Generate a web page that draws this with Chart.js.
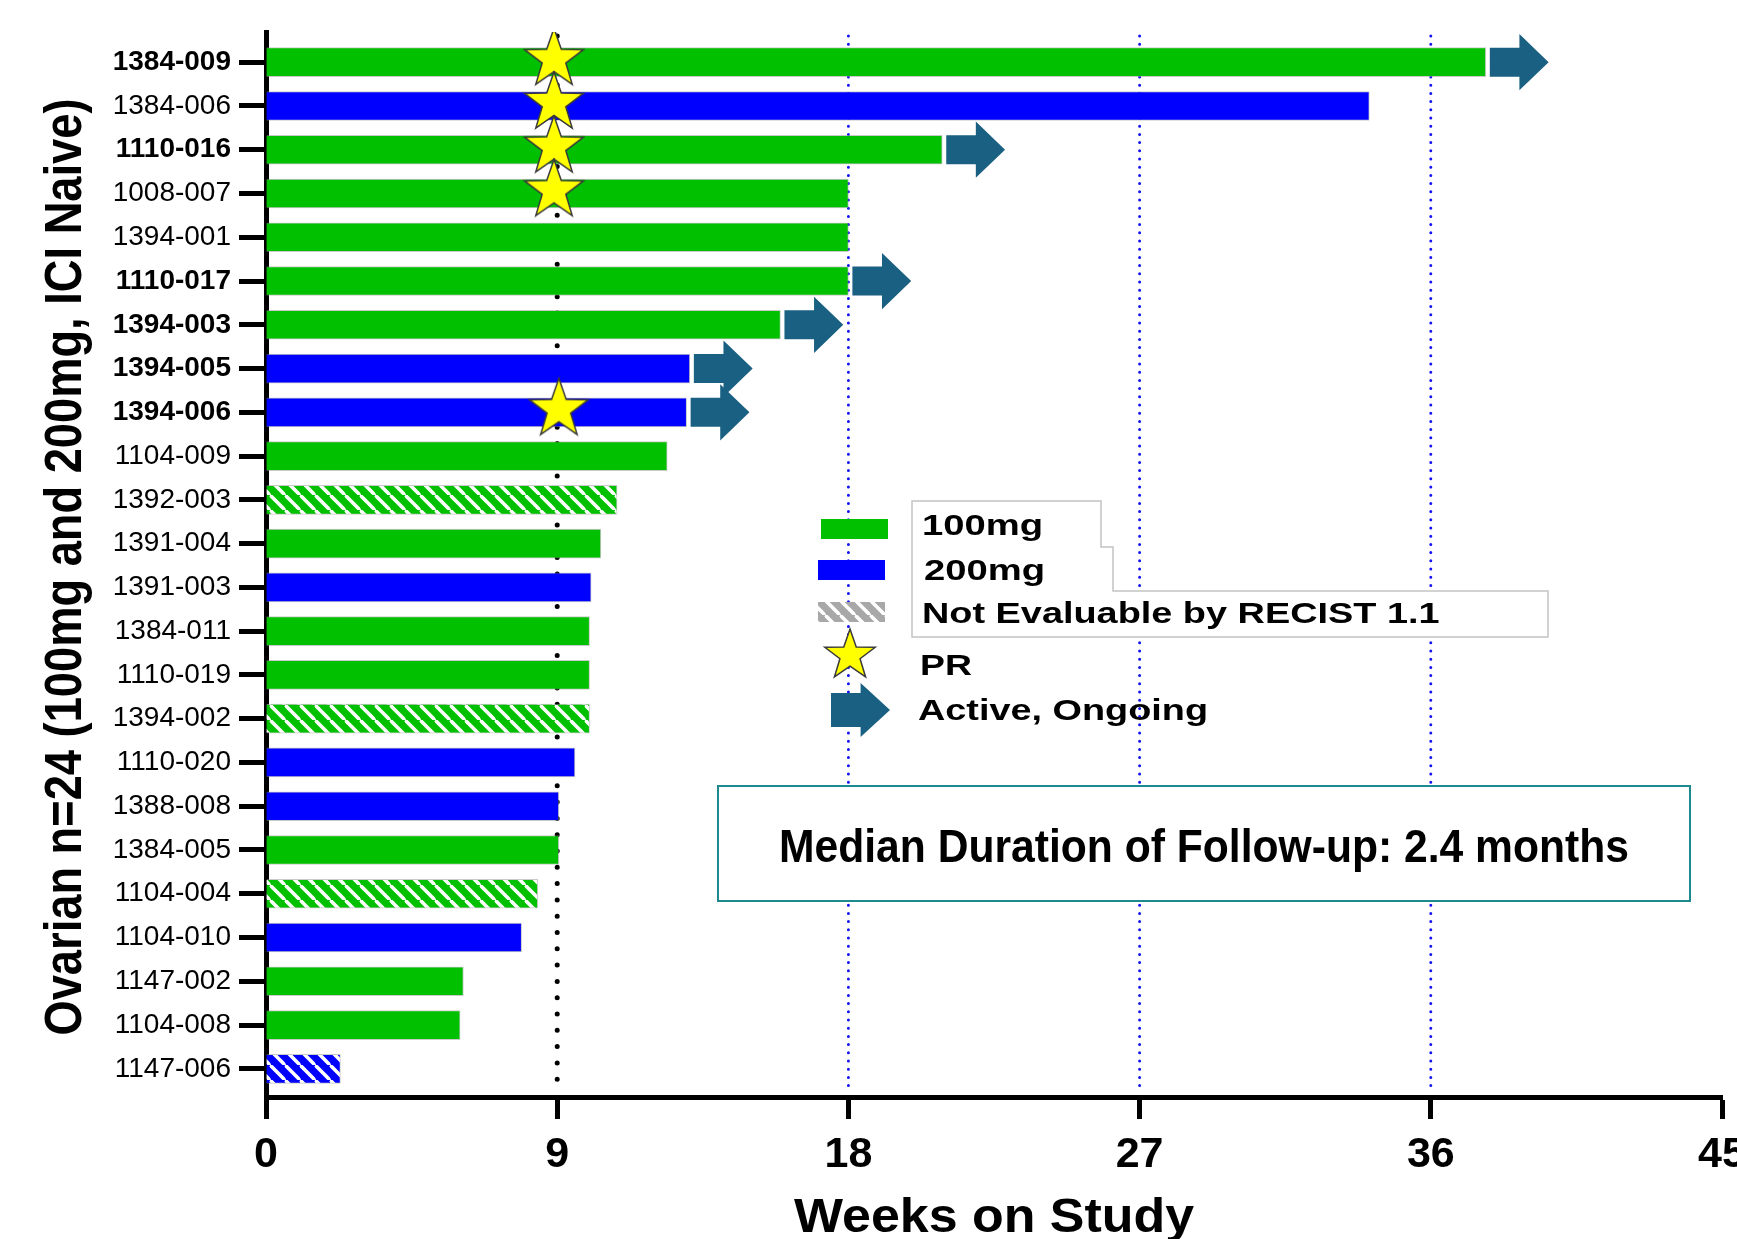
<!DOCTYPE html>
<html>
<head>
<meta charset="utf-8">
<script src="https://cdn.jsdelivr.net/npm/chart.js@4.4.1/dist/chart.umd.min.js"></script>
<style>
  html, body { margin: 0; padding: 0; background: #fff; overflow: hidden; width: 1737px; height: 1239px; }
  canvas { display: block; }
</style>
</head>
<body>
<canvas id="swimmer" width="1760" height="1239"></canvas>
<script>
// Patients, top to bottom
const patients = [
  '1384-009', '1384-006', '1110-016', '1008-007', '1394-001', '1110-017',
  '1394-003', '1394-005', '1394-006', '1104-009', '1392-003', '1391-004',
  '1391-003', '1384-011', '1110-019', '1394-002', '1110-020', '1388-008',
  '1384-005', '1104-004', '1104-010', '1147-002', '1104-008', '1147-006'
];
// Weeks on study for each patient
const weeksOnStudy = [
  37.7, 34.1, 20.9, 18.0, 18.0, 18.0,
  15.9, 13.1, 13.0, 12.4, 10.85, 10.35,
  10.05, 10.0, 10.0, 10.0, 9.55, 9.05,
  9.05, 8.4, 7.9, 6.1, 6.0, 2.3
];
// Dose level (mg) for each patient
const doseMg = [
  100, 200, 100, 100, 100, 100,
  100, 200, 200, 100, 100, 100,
  200, 100, 100, 100, 200, 200,
  100, 100, 200, 100, 100, 200
];
// Not evaluable by RECIST 1.1
const notEvaluablePatients = ['1392-003', '1394-002', '1104-004', '1147-006'];
// Still on treatment
const ongoingPatients = ['1384-009', '1110-016', '1110-017', '1394-003', '1394-005', '1394-006'];
// Partial responses and the week they were recorded
const prPatients = ['1384-009', '1384-006', '1110-016', '1008-007', '1394-006'];
const prWeek = [8.9, 8.9, 8.9, 8.9, 9.05];
// Week axis ticks
const weekTicks = [0, 9, 18, 27, 36, 45];

const FONT = "'Liberation Sans', Arial, Helvetica, sans-serif";
const GREEN = '#00c000';
const BLUE = '#0000ff';
const ARROW = '#1a6082';

function hatch(base) {
  const s = 15.5;
  const c = document.createElement('canvas');
  c.width = s; c.height = s;
  const g = c.getContext('2d');
  g.fillStyle = base;
  g.fillRect(0, 0, s, s);
  g.strokeStyle = '#ffffff';
  g.lineWidth = 3.6;
  g.beginPath();
  for (const o of [-s, 0, s]) { g.moveTo(o, 0); g.lineTo(o + s, s); }
  g.stroke();
  return g.createPattern(c, 'repeat');
}
const fills = {
  100: { solid: GREEN, hatched: hatch(GREEN) },
  200: { solid: BLUE, hatched: hatch(BLUE) }
};
const greyHatch = hatch('#a8a8a8');

function starPath(g, cx, cy, R) {
  const r = R * 0.4;
  g.beginPath();
  for (let i = 0; i < 10; i++) {
    const a = -Math.PI / 2 + i * Math.PI / 5;
    const rad = i % 2 ? r : R;
    g.lineTo(cx + rad * Math.cos(a), cy + rad * Math.sin(a));
  }
  g.closePath();
  g.fillStyle = '#ffff00';
  g.fill();
  g.lineWidth = 1.5;
  g.strokeStyle = '#3a3a3a';
  g.stroke();
}
function starImage(R) {
  const size = Math.ceil(2 * R + 8);
  const c = document.createElement('canvas');
  c.width = size; c.height = size;
  starPath(c.getContext('2d'), size / 2, size / 2 - 3, R);
  return c;
}
const starImg = starImage(31);

function arrowPath(ctx, x, y, shaftLen, shaftH, headLen, headH) {
  ctx.beginPath();
  ctx.moveTo(x, y - shaftH / 2);
  ctx.lineTo(x + shaftLen, y - shaftH / 2);
  ctx.lineTo(x + shaftLen, y - headH / 2);
  ctx.lineTo(x + shaftLen + headLen, y);
  ctx.lineTo(x + shaftLen, y + headH / 2);
  ctx.lineTo(x + shaftLen, y + shaftH / 2);
  ctx.lineTo(x, y + shaftH / 2);
  ctx.closePath();
  ctx.fillStyle = ARROW;
  ctx.fill();
}

// Draw text squeezed or stretched horizontally to a given width
function fitText(ctx, text, x, y, size, width, align) {
  ctx.save();
  ctx.font = 'bold ' + size + 'px ' + FONT;
  const k = width / ctx.measureText(text).width;
  ctx.translate(x, y);
  ctx.scale(k, 1);
  ctx.textAlign = align;
  ctx.textBaseline = 'alphabetic';
  ctx.fillStyle = '#000';
  ctx.fillText(text, 0, 0);
  ctx.restore();
}

// Dotted reference lines behind the bars
const referenceLines = {
  id: 'referenceLines',
  beforeDatasetsDraw(chart) {
    const { ctx, chartArea, scales: { x } } = chart;
    ctx.save();
    ctx.lineCap = 'round';
    weekTicks.slice(1, -1).forEach((v, i) => {
      const px = x.getPixelForValue(v);
      const first = i === 0;
      ctx.strokeStyle = first ? '#000000' : '#1414f0';
      ctx.lineWidth = first ? 5 : 3;
      ctx.setLineDash(first ? [0, 16.3] : [0, 8.2]);
      ctx.beginPath();
      ctx.moveTo(px, chartArea.top + 4);
      ctx.lineTo(px, chartArea.bottom - 8);
      ctx.stroke();
    });
    ctx.restore();
  }
};

// Arrows for ongoing patients, legend, note and axis titles
const annotations = {
  id: 'annotations',
  afterDatasetsDraw(chart) {
    const { ctx } = chart;
    const bars = chart.getDatasetMeta(0).data;
    ctx.save();
    ongoingPatients.forEach(p => {
      const bar = bars[patients.indexOf(p)];
      const h = bar.height;
      arrowPath(ctx, bar.x + 4, bar.y, 29.6, h, 29.2, h * 1.94);
    });
    ctx.restore();
  },
  afterDraw(chart) {
    const { ctx, chartArea } = chart;
    ctx.save();

    // label boxes of the legend
    ctx.fillStyle = '#ffffff';
    ctx.strokeStyle = '#c4c4c4';
    ctx.lineWidth = 1.5;
    ctx.beginPath();
    ctx.moveTo(912, 501); ctx.lineTo(1101, 501); ctx.lineTo(1101, 547);
    ctx.lineTo(1113, 547); ctx.lineTo(1113, 591); ctx.lineTo(1548, 591);
    ctx.lineTo(1548, 637); ctx.lineTo(912, 637); ctx.closePath();
    ctx.fill();
    ctx.stroke();

    // legend swatches
    ctx.fillStyle = GREEN; ctx.fillRect(821, 519, 67, 20);
    ctx.fillStyle = BLUE; ctx.fillRect(818, 560, 67, 20);
    ctx.fillStyle = greyHatch; ctx.fillRect(818, 602, 67, 20);
    starPath(ctx, 850, 655.5, 26.5);
    arrowPath(ctx, 831, 710, 29.6, 34, 29.4, 54);

    const k = 1.25;
    fitText(ctx, '100mg', 922, 535, 30, 96.9 * k, 'left');
    fitText(ctx, '200mg', 924, 580, 30, 96.9 * k, 'left');
    fitText(ctx, 'Not Evaluable by RECIST 1.1', 922, 623, 30, 414 * k, 'left');
    fitText(ctx, 'PR', 920, 675, 30, 41.5 * k, 'left');
    fitText(ctx, 'Active, Ongoing', 918, 720, 30, 232 * k, 'left');

    // follow-up note
    ctx.fillStyle = '#ffffff';
    ctx.fillRect(718, 786, 972, 115);
    ctx.strokeStyle = '#1f8a8e';
    ctx.lineWidth = 2;
    ctx.strokeRect(718, 786, 972, 115);
    fitText(ctx, 'Median Duration of Follow-up: 2.4 months', 1204, 861.5, 46.6, 850, 'center');

    // axis titles
    fitText(ctx, 'Weeks on Study', (chartArea.left + chartArea.right) / 2, 1231.5, 49, 400, 'center');
    ctx.save();
    ctx.translate(81, 567);
    ctx.rotate(-Math.PI / 2);
    fitText(ctx, 'Ovarian n=24 (100mg and 200mg, ICI Naive)', 0, 0, 51, 937, 'center');
    ctx.restore();

    ctx.restore();
  }
};

const barData = patients.map((p, i) => ({ x: weeksOnStudy[i], y: i }));
const starData = prPatients.map((p, i) => ({ x: prWeek[i], y: patients.indexOf(p) }));

new Chart(document.getElementById('swimmer'), {
  type: 'bar',
  data: {
    datasets: [
      {
        type: 'bar',
        label: 'Weeks on study',
        indexAxis: 'y',
        data: barData,
        xAxisID: 'x',
        yAxisID: 'y',
        order: 1,
        barThickness: 29,
        borderWidth: 1,
        borderColor: 'rgba(150,150,150,0.5)',
        backgroundColor: (c) => {
          const i = c.dataIndex;
          if (i === undefined) return GREEN;
          const f = fills[doseMg[i]];
          return notEvaluablePatients.includes(patients[i]) ? f.hatched : f.solid;
        }
      },
      {
        type: 'scatter',
        label: 'PR',
        data: starData,
        xAxisID: 'x',
        yAxisID: 'y',
        order: 0,
        pointStyle: starImg,
        pointRadius: 31,
        showLine: false
      }
    ]
  },
  options: {
    indexAxis: 'y',
    responsive: false,
    animation: false,
    devicePixelRatio: 1,
    layout: { padding: { top: 28, right: 38, bottom: 0, left: 0 } },
    plugins: { legend: { display: false }, tooltip: { enabled: false } },
    scales: {
      x: {
        type: 'linear',
        position: 'bottom',
        min: weekTicks[0],
        max: weekTicks[weekTicks.length - 1],
        afterFit: (s) => { s.height = 142; },
        afterBuildTicks: (s) => { s.ticks = weekTicks.map(v => ({ value: v })); },
        ticks: {
          stepSize: weekTicks[1] - weekTicks[0],
          color: '#000',
          padding: 10,
          maxRotation: 0,
          font: { family: FONT, size: 43, weight: 'bold' }
        },
        grid: { drawOnChartArea: false, drawTicks: true, tickLength: 22, tickWidth: 5, tickColor: '#000' },
        border: { display: true, width: 5, color: '#000' }
      },
      y: {
        type: 'linear',
        position: 'left',
        reverse: true,
        offset: false,
        min: -0.69,
        max: 23.644,
        afterFit: (s) => { s.width = 266; },
        afterBuildTicks: (s) => { s.ticks = patients.map((p, i) => ({ value: i })); },
        ticks: {
          stepSize: 1,
          autoSkip: false,
          includeBounds: false,
          maxTicksLimit: 40,
          color: '#000',
          padding: 8,
          callback: (v) => patients[v] ?? '',
          font: (c) => ({
            family: FONT,
            size: 28,
            weight: (c.tick && ongoingPatients.includes(patients[c.tick.value])) ? 'bold' : 'normal'
          })
        },
        grid: { offset: false, drawOnChartArea: false, drawTicks: true, tickLength: 27, tickWidth: 5, tickColor: '#000' },
        border: { display: true, width: 5, color: '#000' }
      }
    }
  },
  plugins: [referenceLines, annotations]
});
</script>
</body>
</html>
